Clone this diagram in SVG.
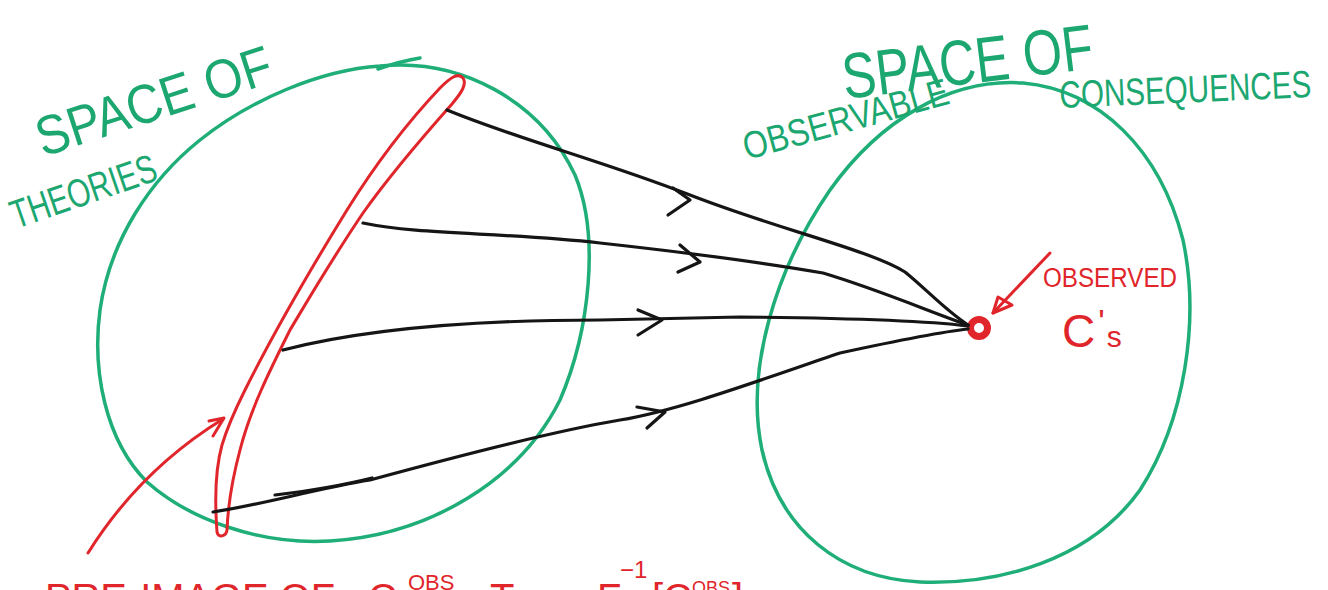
<svg xmlns="http://www.w3.org/2000/svg" width="1328" height="590" viewBox="0 0 1328 590">
<style>
.g{fill:none;stroke:#1fae78;stroke-width:3.5;stroke-linecap:round;stroke-linejoin:round}
.r{fill:none;stroke:#e0252b;stroke-width:3;stroke-linecap:round;stroke-linejoin:round}
.k{fill:none;stroke:#151515;stroke-width:3.2;stroke-linecap:round;stroke-linejoin:round}
.gt{fill:#1ca771;font-family:"Liberation Sans",Arial,sans-serif}
.rt{fill:#e0252b;font-family:"Liberation Sans",Arial,sans-serif}
</style>
<rect width="1328" height="590" fill="#fff"/>
<g id="space-of-theories">
<path class="g" d="M380,66 C460,58 540,100 575,175 C600,235 590,330 560,400 C520,480 430,535 330,541 C260,545 190,520 147,482 C105,440 92,370 100,310 C110,240 150,180 200,140 C250,100 320,70 380,66 Z"/>
<path class="g" d="M378,69 C395,63 408,60 420,58"/>
<text class="gt" font-size="55" textLength="245" lengthAdjust="spacingAndGlyphs" transform="translate(43,157) rotate(-18)">SPACE OF</text>
<text class="gt" font-size="40" textLength="152" lengthAdjust="spacingAndGlyphs" transform="translate(16,229) rotate(-19)">THEORIES</text>
</g>
<g id="space-of-consequences">
<path class="g" d="M1023,83 C1100,90 1160,150 1183,240 C1200,320 1185,420 1140,490 C1090,560 1000,585 920,582 C840,578 780,530 762,450 C745,370 775,270 830,190 C880,120 950,78 1023,83 Z"/>
<text class="gt" font-size="64" textLength="252" lengthAdjust="spacingAndGlyphs" transform="translate(845,99) rotate(-7)">SPACE OF</text>
<text class="gt" font-size="38" textLength="212" lengthAdjust="spacingAndGlyphs" transform="translate(747,160) rotate(-15.5)">OBSERVABLE</text>
<text class="gt" font-size="38" textLength="252" lengthAdjust="spacingAndGlyphs" transform="translate(1060,108) rotate(-2.5)">CONSEQUENCES</text>
</g>
<g id="preimage">
<path class="r" d="M217,532 C215,505 215,470 222,445 C228,425 235,410 245,390 C270,340 310,270 347,210 C375,165 405,125 440,88 C450,78 458,72 463,78 C467,84 462,92 452,104 C420,140 390,175 363,213 C330,262 305,305 290,330 C270,370 250,410 240,450 C232,480 228,505 227,530 C226,537 218,538 217,532 Z"/>
</g>
<g id="observed">
<circle cx="979" cy="328" r="8.5" fill="none" stroke="#e0252b" stroke-width="7"/>
<text class="rt" font-size="27" textLength="134" lengthAdjust="spacingAndGlyphs" x="1043" y="287">OBSERVED</text>
<text class="rt" x="1062" y="347"><tspan font-size="46">C</tspan><tspan font-size="34" dx="3" dy="-14">'</tspan><tspan font-size="30" dx="2" dy="14">s</tspan></text>
</g>
<g id="connectors">
<path class="k" d="M447,110 C520,140 600,160 690,195 S870,250 905,272 C925,288 945,310 968,325"/>
<path class="k" d="M673,188 L690,200 L668,215"/>
<path class="k" d="M363,223 C420,235 500,232 600,243 S760,262 823,273 C880,290 930,312 968,325"/>
<path class="k" d="M680,245 L700,262 L678,272"/>
<path class="k" d="M283,350 C380,325 500,320 600,320 L740,317 C850,318 920,320 968,326"/>
<path class="k" d="M638,310 L662,320 L638,335"/>
<path class="k" d="M213,512 C260,505 320,488 370,480 C480,450 560,430 620,420 S760,380 840,353 C900,340 940,332 968,329"/>
<path class="k" d="M275,495 C300,492 340,486 372,478"/>
<path class="k" d="M637,407 L665,412 L647,428"/>
<path class="r" d="M1050,253 L993,313"/>
<path class="r" d="M998,297 L993,313 L1012,305 Z"/>
<path class="r" d="M88,553 Q140,470 223,419"/>
<path class="r" d="M209,421 L224,418 L213,436"/>
</g>
<g id="bottom-label">
<text class="rt" font-size="40" y="612"><tspan x="45" textLength="290" lengthAdjust="spacingAndGlyphs">PRE-IMAGE OF</tspan><tspan x="368">C</tspan><tspan x="408" y="590" font-size="22">OBS</tspan><tspan x="490" y="612">T</tspan><tspan x="540">=</tspan><tspan x="597">F</tspan><tspan x="620" y="578" font-size="24">−1</tspan><tspan x="652" y="612">[C</tspan><tspan x="692" y="594" font-size="18">OBS</tspan><tspan x="732" y="612">]</tspan></text>
</g>
</svg>
